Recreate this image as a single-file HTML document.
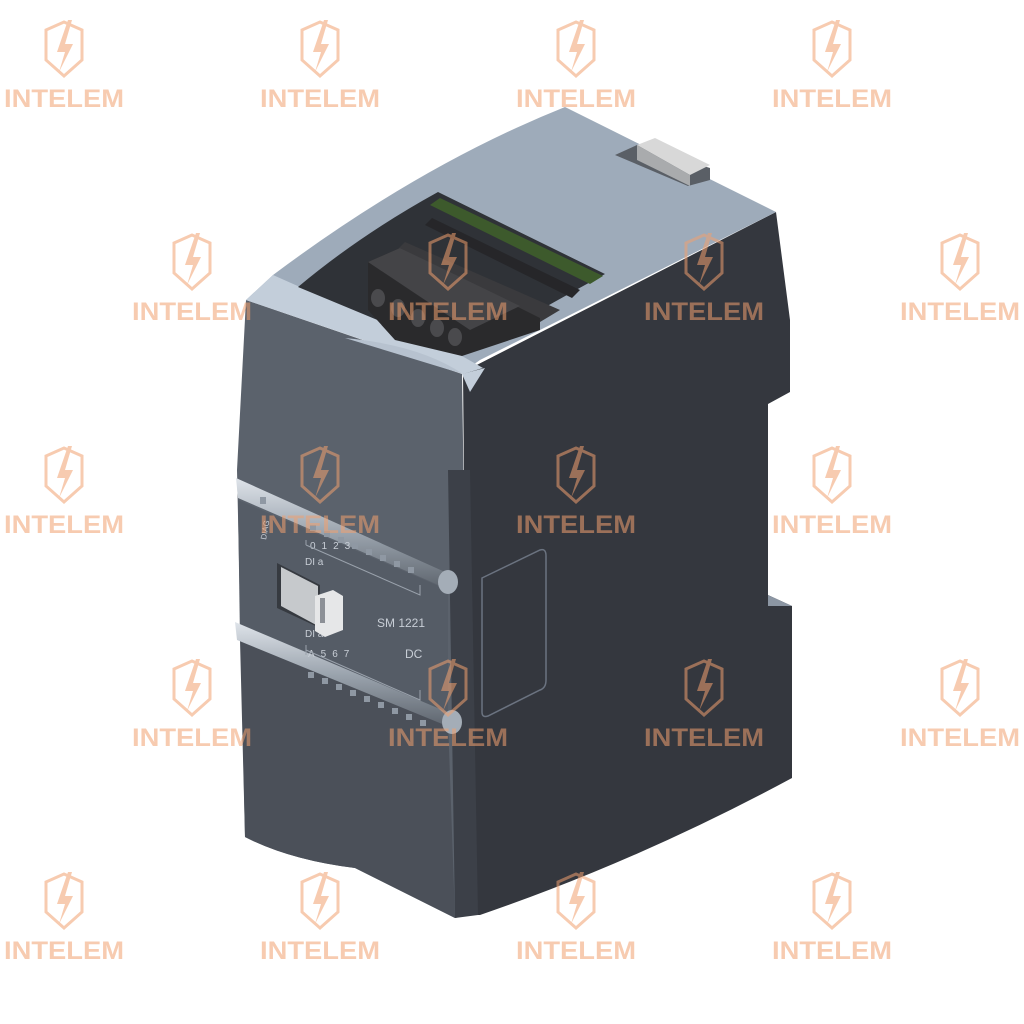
<!DOCTYPE html>
<html><head><meta charset="utf-8"><style>
html,body{margin:0;padding:0;background:#fff;width:1024px;height:1024px;overflow:hidden}
svg{display:block}
</style></head><body>
<svg width="1024" height="1024" viewBox="0 0 1024 1024" xmlns="http://www.w3.org/2000/svg">
<defs>
<linearGradient id="rail" x1="0" y1="0" x2="0" y2="1">
<stop offset="0" stop-color="#dfe4ea"/><stop offset="0.5" stop-color="#9aa3ad"/><stop offset="1" stop-color="#5c636c"/>
</linearGradient>
<g id="wm">
<path d="M-18,-22 L0,-30 L18,-22 L18,8 L0,24 L-18,8 Z" fill="none" stroke="#f0a070" stroke-width="3"/>
<path d="M4,-32 L-7,0 L1,0 L-5,20 L9,-8 L1,-8 L8,-32 Z" fill="#f0a070"/>
<text x="0" y="55" text-anchor="middle" font-family="Liberation Sans, sans-serif" font-weight="bold" font-size="25" textLength="120" lengthAdjust="spacingAndGlyphs" fill="#f0a070">INTELEM</text>
</g>
</defs>

<path d="M463,372 L776,212 L790,320 L790,392 L768,404 L768,595 L792,606 L792,778 Q640,860 480,915 L468,915 Z" fill="#34373e"/>
<path d="M768,595 L792,606 L768,606 Z" fill="#8c96a3"/>
<path d="M482,578 L540,550 Q546,548 546,556 L546,680 Q546,688 540,690 L488,716 Q482,718 482,712 Z" fill="none" stroke="#6b7380" stroke-width="1.5"/>

<path d="M246,300 L462,374 L470,915 L455,918 L355,868 Q290,860 245,837 L237,470 Z" fill="#5b626c"/>
<path d="M240,640 L448,720 L455,918 L355,868 Q290,860 245,837 Z" fill="#4b5059"/>
<path d="M448,470 L470,470 L478,915 L455,918 Z" fill="#3c4048"/>
<path d="M238,500 L448,590 L448,720 L240,640 Z" fill="#555c66"/>

<path d="M273,275 Q420,165 565,107 L776,212 Q620,290 480,360 L463,372 L246,300 Z" fill="#9eabba"/>
<path d="M246,300 L273,275 L300,287 L462,356 L483,368 L463,374 Z" fill="#c3ceda"/>
<path d="M345,338 Q420,345 463,374 L470,390 L463,374 Z" fill="#b7c2cf"/>
<path d="M462,374 L485,368 L470,392 Z" fill="#c3ceda"/>
<path d="M298,287 Q360,235 438,192 L605,274 Q530,315 462,355 Z" fill="#2f3237"/>
<path d="M430,205 L440,198 L603,276 L590,284 Z" fill="#3d5a2c"/>
<path d="M425,225 L432,218 L580,290 L572,298 Z" fill="#262629"/>
<path d="M405,242 L560,310 L540,322 L395,252 Z" fill="#3a3a3d"/>
<path d="M368,262 L400,248 L540,318 L540,330 L462,356 L395,340 L368,310 Z" fill="#2a2a2c"/>
<path d="M368,262 L400,248 L520,306 L470,330 Z" fill="#444447"/>
<g fill="#4a4a4d">
<ellipse cx="378" cy="298" rx="7" ry="9"/><ellipse cx="398" cy="308" rx="7" ry="9"/><ellipse cx="418" cy="318" rx="7" ry="9"/><ellipse cx="437" cy="328" rx="7" ry="9"/><ellipse cx="455" cy="337" rx="7" ry="9"/>
</g>
<path d="M615,155 L637,145 L710,168 L710,180 L688,186 Z" fill="#5a5f66"/>
<path d="M637,145 L655,138 L710,165 L690,175 Z" fill="#d8d8d8"/>
<path d="M637,145 L690,175 L690,186 L637,160 Z" fill="#a9abad"/>

<path d="M236,478 L445,572 L450,590 L238,498 Z" fill="url(#rail)"/>
<ellipse cx="448" cy="582" rx="10" ry="12" fill="#a4adb7"/>
<path d="M235,622 L447,712 L452,728 L237,640 Z" fill="url(#rail)"/>
<ellipse cx="452" cy="722" rx="10" ry="12" fill="#a4adb7"/>
<g fill="#8f98a3">
<rect x="260" y="497" width="6" height="7"/>
<rect x="310" y="525" width="6" height="6"/><rect x="324" y="531" width="6" height="6"/><rect x="338" y="537" width="6" height="6"/><rect x="352" y="543" width="6" height="6"/><rect x="366" y="549" width="6" height="6"/><rect x="380" y="555" width="6" height="6"/><rect x="394" y="561" width="6" height="6"/><rect x="408" y="567" width="6" height="6"/>
<rect x="308" y="672" width="6" height="6"/><rect x="322" y="678" width="6" height="6"/><rect x="336" y="684" width="6" height="6"/><rect x="350" y="690" width="6" height="6"/><rect x="364" y="696" width="6" height="6"/><rect x="378" y="702" width="6" height="6"/><rect x="392" y="708" width="6" height="6"/><rect x="406" y="714" width="6" height="6"/><rect x="420" y="720" width="6" height="6"/>
</g>
<g font-family="Liberation Sans, sans-serif" fill="#c8ced6" font-size="10">
<text x="266" y="540" transform="rotate(-80 266 540)" font-size="8">DIAG</text>
<text x="310" y="549" letter-spacing="6">0123</text>
<text x="305" y="565">DI a</text>
<text x="305" y="637">DI a</text>
<text x="308" y="657" letter-spacing="6">A567</text>
<text x="377" y="627" font-size="12">SM 1221</text>
<text x="405" y="658" font-size="12">DC</text>
</g>
<path d="M306,545 L306,540 M306,545 L420,595 L420,585" fill="none" stroke="#9aa2ac" stroke-width="1"/>
<path d="M306,655 L306,645 M306,650 L420,700 L420,690" fill="none" stroke="#9aa2ac" stroke-width="1"/>
<path d="M277,563 L320,585 L320,628 L277,608 Z" fill="#363a40"/>
<path d="M281,567 L318,586 L318,626 L281,606 Z" fill="#c6c9cc"/>
<path d="M315,596 L333,590 L343,596 L343,630 L325,637 L315,631 Z" fill="#e6e7e8"/>
<rect x="320" y="598" width="5" height="25" fill="#8c9096"/>

<g opacity="0.55">
<use href="#wm" x="64" y="52"/><use href="#wm" x="320" y="52"/><use href="#wm" x="576" y="52"/><use href="#wm" x="832" y="52"/>
<use href="#wm" x="192" y="265"/><use href="#wm" x="448" y="265"/><use href="#wm" x="704" y="265"/><use href="#wm" x="960" y="265"/>
<use href="#wm" x="64" y="478"/><use href="#wm" x="320" y="478"/><use href="#wm" x="576" y="478"/><use href="#wm" x="832" y="478"/>
<use href="#wm" x="192" y="691"/><use href="#wm" x="448" y="691"/><use href="#wm" x="704" y="691"/><use href="#wm" x="960" y="691"/>
<use href="#wm" x="64" y="904"/><use href="#wm" x="320" y="904"/><use href="#wm" x="576" y="904"/><use href="#wm" x="832" y="904"/>
</g>
</svg>
</body></html>
